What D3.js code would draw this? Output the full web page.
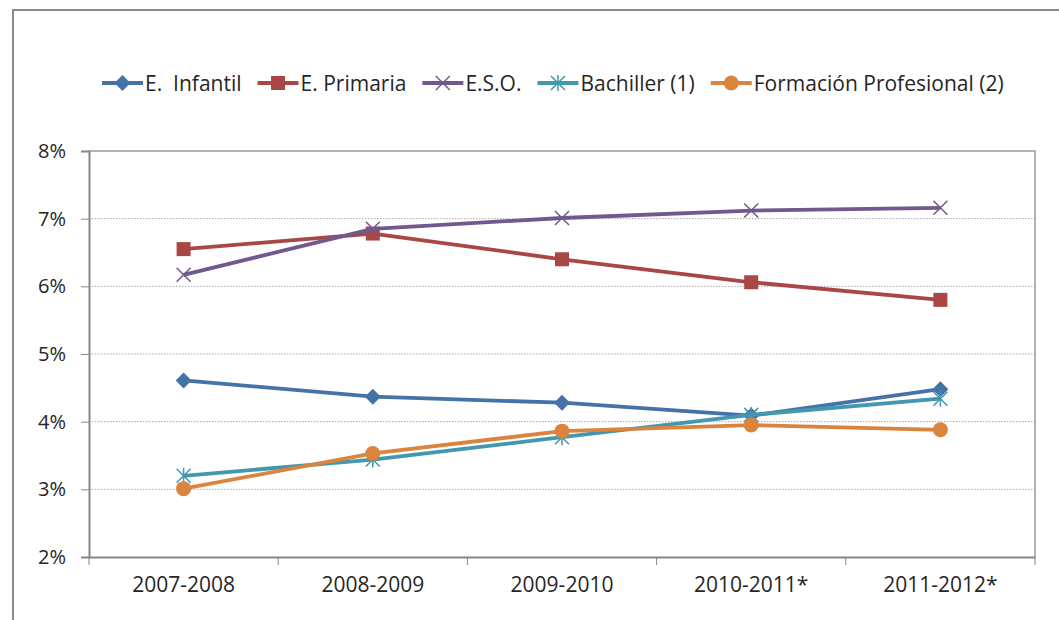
<!DOCTYPE html>
<html>
<head>
<meta charset="utf-8">
<script src="https://cdn.jsdelivr.net/npm/d3@7"></script>
<style>
  body { margin: 0; background: #fff; }
  svg { display: block; font-family: "Open Sans", sans-serif; }
</style>
</head>
<body>
<div id="chart"></div>
<script>
// categories and values (percent)
const years = ["2007-2008", "2008-2009", "2009-2010", "2010-2011*", "2011-2012*"];
const seriesNames = ["E.  Infantil", "E. Primaria", "E.S.O.", "Bachiller (1)", "Formación Profesional (2)"];
const infantil = [4.61, 4.37, 4.28, 4.09, 4.48];
const primaria = [6.55, 6.78, 6.40, 6.06, 5.80];
const eso = [6.17, 6.85, 7.01, 7.12, 7.16];
const bachiller = [3.20, 3.44, 3.77, 4.10, 4.34];
const fp = [3.01, 3.53, 3.86, 3.95, 3.88];
const yTicks = [2, 3, 4, 5, 6, 7, 8];

const colors = ["#4572A7", "#AA4643", "#71588F", "#4198AF", "#DB843D"];
const markers = ["diamond", "square", "x", "star", "circle"];
const allValues = [infantil, primaria, eso, bachiller, fp];

const series = seriesNames.map((name, i) => ({
  name, color: colors[i], marker: markers[i],
  values: allValues[i].map((v, j) => ({year: years[j], v}))
}));

const width = 1059, height = 620;
const margin = {top: 151, right: 24, bottom: 63, left: 89};
const textColor = "#262626";

const svg = d3.select("#chart").append("svg")
  .attr("width", width)
  .attr("height", height);

// outer chart frame
svg.append("rect")
  .attr("x", 13).attr("y", 10)
  .attr("width", width + 20).attr("height", height + 20)
  .attr("fill", "none")
  .attr("stroke", "#8c8c8c")
  .attr("stroke-width", 2);

const x = d3.scaleBand()
  .domain(years)
  .range([margin.left, width - margin.right]);

const y = d3.scaleLinear()
  .domain([2, 8])
  .range([height - margin.bottom, margin.top]);

// gridlines
svg.append("g")
  .selectAll("line")
  .data(yTicks.filter(t => t > 2 && t < 8))
  .join("line")
    .attr("x1", margin.left).attr("x2", width - margin.right)
    .attr("y1", d => y(d)).attr("y2", d => y(d))
    .attr("stroke", "#a6a6a6")
    .attr("stroke-dasharray", "1.5,1.5");

// plot area border top/right
svg.append("path")
  .attr("d", `M${margin.left},${y(8)}H${width - margin.right}V${y(2)}`)
  .attr("fill", "none")
  .attr("stroke", "#9a9a9a")
  .attr("stroke-width", 1.5);

// y axis
const yAxis = svg.append("g")
  .attr("transform", `translate(${margin.left},0)`)
  .call(d3.axisLeft(y).tickValues(yTicks).tickFormat(d => d + "%").tickSize(8).tickPadding(15));
yAxis.select(".domain").attr("stroke", "#868686").attr("stroke-width", 2);
yAxis.selectAll(".tick line").attr("stroke", "#868686");
yAxis.selectAll("text").attr("fill", textColor).style("font-size", "20px").style("font-family", "'Open Sans', sans-serif");

// x axis
const xAxis = svg.append("g")
  .attr("transform", `translate(0,${y(2)})`)
  .call(d3.axisBottom(x).tickSize(0).tickPadding(20));
xAxis.select(".domain").attr("stroke", "#868686").attr("stroke-width", 2);
xAxis.selectAll("text").attr("fill", textColor).style("font-size", "21px").style("font-family", "'Open Sans', sans-serif");
// tick marks at band boundaries
xAxis.selectAll(".bound")
  .data(years.concat(["end"]))
  .join("line")
    .attr("class", "bound")
    .attr("x1", (d, i) => i < years.length ? x(d) : x.range()[1])
    .attr("x2", (d, i) => i < years.length ? x(d) : x.range()[1])
    .attr("y1", 0).attr("y2", 8)
    .attr("stroke", "#868686");

const cx = d => x(d.year) + x.bandwidth() / 2;
const line = d3.line().x(cx).y(d => y(d.v));

function drawMarker(g, type, color) {
  if (type === "diamond") {
    g.append("path").attr("d", "M0,-8L8,0L0,8L-8,0Z").attr("fill", color);
  } else if (type === "square") {
    g.append("rect").attr("x", -7).attr("y", -7).attr("width", 14).attr("height", 14).attr("fill", color);
  } else if (type === "circle") {
    g.append("circle").attr("r", 7.5).attr("fill", color);
  } else if (type === "x") {
    g.append("path").attr("d", "M-7,-7L7,7M-7,7L7,-7").attr("stroke", color).attr("stroke-width", 1.5);
  } else if (type === "star") {
    g.append("path").attr("d", "M-7,-7L7,7M-7,7L7,-7M0,-8V8").attr("stroke", color).attr("stroke-width", 1.5);
  }
}

// lines and markers
series.forEach(s => {
  svg.append("path")
    .datum(s.values)
    .attr("d", line)
    .attr("fill", "none")
    .attr("stroke", s.color)
    .attr("stroke-width", 3.8)
    .attr("stroke-linejoin", "round");
  s.values.forEach(d => {
    const g = svg.append("g").attr("transform", `translate(${cx(d)},${y(d.v)})`);
    drawMarker(g, s.marker, s.color);
  });
});

// legend
const legend = svg.append("g").attr("transform", "translate(102,83)");
let lx = 0;
series.forEach(s => {
  const item = legend.append("g").attr("transform", `translate(${lx},0)`);
  item.append("line").attr("x1", 0).attr("x2", 41).attr("y1", 0).attr("y2", 0)
    .attr("stroke", s.color).attr("stroke-width", 3.8);
  drawMarker(item.append("g").attr("transform", "translate(20.5,0)"), s.marker, s.color);
  const t = item.append("text")
    .attr("x", 43).attr("y", 7.5)
    .attr("fill", textColor)
    .style("font-size", "21px")
    .style("white-space", "pre")
    .attr("xml:space", "preserve")
    .text(s.name);
  lx += 43 + t.node().getComputedTextLength() + 16;
});
</script>
</body>
</html>
